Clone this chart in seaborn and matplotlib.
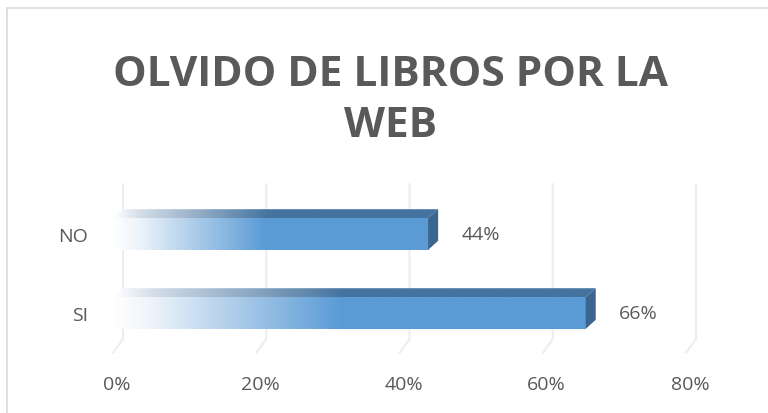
import numpy as np
import pandas as pd
import matplotlib
matplotlib.use("Agg")
import matplotlib.pyplot as plt
import seaborn as sns
from matplotlib.colors import LinearSegmentedColormap
from matplotlib.patches import Polygon
from matplotlib.lines import Line2D
from matplotlib.transforms import ScaledTranslation

categories = ["NO", "SI"]
values = [44, 66]
value_labels = ["44%", "66%"]
ticks = [0, 20, 40, 60, 80]
tick_labels = ["0%", "20%", "40%", "60%", "80%"]
title = "OLVIDO DE LIBROS POR LA\nWEB"

df = pd.DataFrame({"respuesta": categories, "porcentaje": values})

sns.set_style("white")
plt.rcParams["font.family"] = ["Open Sans", "DejaVu Sans"]

TEXT = "#595959"
FRONT = "#5B9BD5"
TOP = "#44739F"
SIDE = "#3A6690"
GRID = "#EDEDED"
DEPTH_X, DEPTH_Y = 10, 9  # 3d depth in pixels
FS = 14

fig = plt.figure(figsize=(7.68, 4.14), dpi=100)
ax = fig.add_axes([113 / 768, 1 - 345 / 414, 573 / 768, 160 / 414])

sns.barplot(data=df, y="respuesta", x="porcentaje", orient="h", color=FRONT,
            width=0.4, ax=ax, zorder=3)
ax.set_xlim(0, 80)
ax.set_ylim(1.392, -0.633)
ax.set_xlabel("")
ax.set_ylabel("")
for s in ax.spines.values():
    s.set_visible(False)

fig.canvas.draw()
to_disp = ax.transData.transform
to_data = ax.transData.inverted().transform


def shift(pts, dx, dy):
    d = to_disp(np.array(pts, dtype=float))
    d[:, 0] += dx
    d[:, 1] += dy
    return to_data(d)


# gridlines on the back wall, bending onto the floor
ybot, ytop = ax.get_ylim()
for t in ticks:
    pts = np.vstack([shift([[t, ytop]], DEPTH_X, 0),
                     shift([[t, ybot]], DEPTH_X, 5),
                     shift([[t, ybot]], 0, -9)])
    ax.add_line(Line2D(pts[:, 0], pts[:, 1], color=GRID, lw=1.5, zorder=1,
                       clip_on=False))


def grad_cmap(col, start="#EEF4FA"):
    return LinearSegmentedColormap.from_list(
        "g", [(0, (1, 1, 1)), (0.08, start), (0.48, col), (1, col)])


grad = np.linspace(0, 1, 256).reshape(1, -1)
for p in list(ax.patches):
    x0, y0 = p.get_x(), p.get_y()
    w, h = p.get_width(), p.get_height()
    p.set_facecolor("none")
    p.set_edgecolor("none")
    # front face
    im = ax.imshow(grad, cmap=grad_cmap(FRONT), aspect="auto",
                   extent=(x0, x0 + w, y0 + h, y0), zorder=3)
    im.set_clip_path(p)
    # top face
    tl = [x0, y0]
    tr = [x0 + w, y0]
    top_pts = np.vstack([[tl, tr], shift([tr, tl], DEPTH_X, DEPTH_Y)])
    top = Polygon(top_pts, closed=True, fc="none", ec="none")
    ax.add_patch(top)
    xs, ys = top_pts[:, 0], top_pts[:, 1]
    im2 = ax.imshow(grad, cmap=grad_cmap(TOP, "#D5DEE8"), aspect="auto",
                    extent=(xs.min(), xs.max(), ys.max(), ys.min()), zorder=3)
    im2.set_clip_path(top)
    # side face
    br = [x0 + w, y0 + h]
    side_pts = np.vstack([[tr, br], shift([br, tr], DEPTH_X, DEPTH_Y)])
    ax.add_patch(Polygon(side_pts, closed=True, fc=SIDE, ec="none", zorder=3))

ax.bar_label(ax.containers[0], labels=value_labels, padding=24, fontsize=FS,
             color=TEXT)

ax.set_xticks(ticks)
ax.set_xticklabels(tick_labels, fontsize=FS, color=TEXT)
ax.tick_params(axis="x", length=0, pad=22)
ax.tick_params(axis="y", length=0, pad=18, labelsize=FS, labelcolor=TEXT)
for lab in ax.get_xticklabels():
    lab.set_transform(lab.get_transform() + ScaledTranslation(4 / 100, 0, fig.dpi_scale_trans))

fig.text(0.508, 1 - 101 / 414, title, ha="center", va="center", fontsize=30.5,
         fontweight="bold", color=TEXT, linespacing=1.34)

# chart border (left and top edges are visible)
fig.add_artist(Line2D([7 / 768, 7 / 768], [0, 1 - 9 / 414], color="#D9D9D9", lw=1.2))
fig.add_artist(Line2D([7 / 768, 1], [1 - 9 / 414, 1 - 9 / 414], color="#D9D9D9", lw=1.2))

fig.savefig("out.png", dpi=100)
